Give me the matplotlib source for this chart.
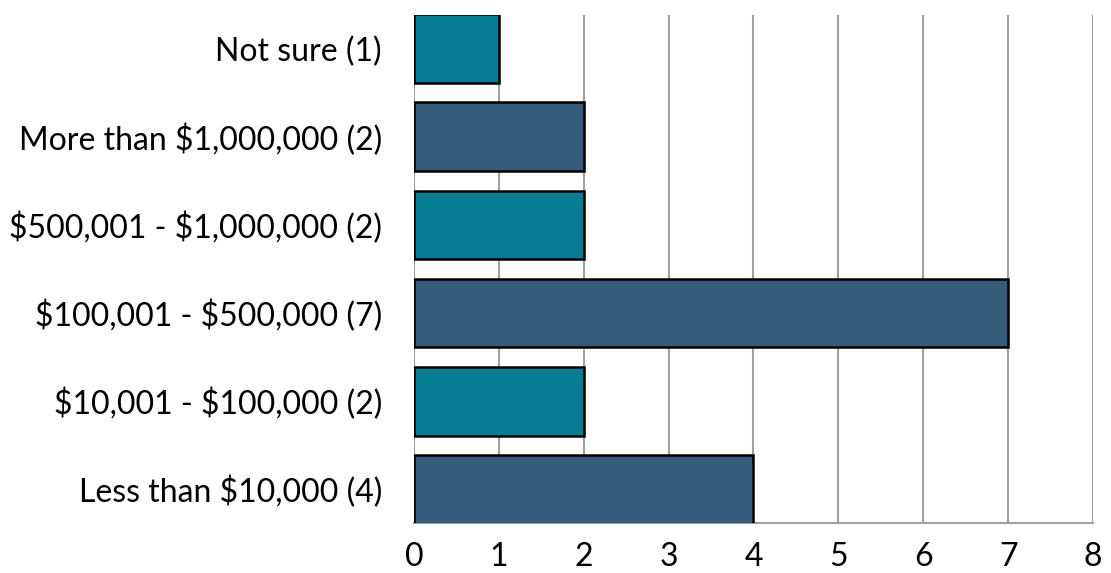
import matplotlib.pyplot as plt

plt.rcParams['font.family'] = ['Lato', 'DejaVu Sans']
plt.rcParams['text.parse_math'] = False

# data, bottom to top
labels = ["Less than $10,000 (4)", "$10,001 - $100,000 (2)", "$100,001 - $500,000 (7)",
          "$500,001 - $1,000,000 (2)", "More than $1,000,000 (2)", "Not sure (1)"]
counts = [4, 2, 7, 2, 2, 1]
colors = ["#365c7c", "#067d92", "#365c7c", "#067d92", "#365c7c", "#067d92"]

fig = plt.figure(figsize=(11.11, 5.73), dpi=100)
ax = fig.add_axes([0.3726, 0.0873, 0.6112, 0.8865])

ax.barh(range(len(counts)), counts, height=0.78, color=colors,
        edgecolor="black", linewidth=1.8, zorder=3)

ax.set_xlim(0, 8)
ax.set_ylim(-0.38, 5.38)
ax.set_xticks(range(9))
ax.set_yticks(range(len(labels)))
ax.set_yticklabels(labels)
ax.grid(axis="x", color="#a0a0a0", linewidth=1.5, zorder=0)
ax.tick_params(length=0, labelsize=23)
ax.tick_params(axis="x", pad=14)
ax.tick_params(axis="y", pad=23)
for s in ["top", "right", "left"]:
    ax.spines[s].set_visible(False)
ax.spines["bottom"].set_color("#a0a0a0")
ax.spines["bottom"].set_linewidth(1.5)

fig.savefig("out.png", dpi=100)
